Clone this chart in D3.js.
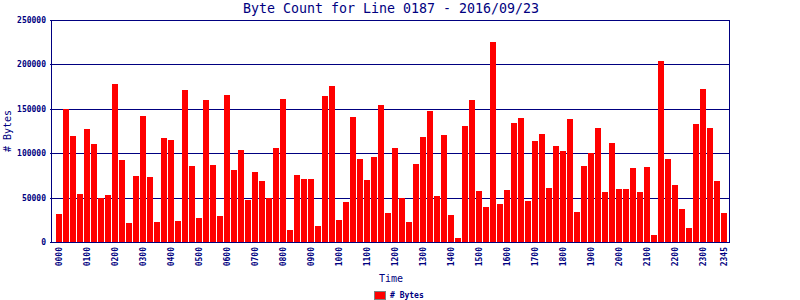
<!DOCTYPE html>
<html lang="en">
<head>
<meta charset="UTF-8">
<title>Byte Count</title>
<script src="https://d3js.org/d3.v7.min.js"></script>
<style>
    body { margin: 0; background: #fff; }
    text { font-family: "DejaVu Sans Mono", monospace; fill: #000080; }
    .tick-label { font-size: 8px; font-weight: bold; }
    .grid { stroke: #000080; stroke-width: 1; shape-rendering: crispEdges; }
    .bar { fill: #ff0000; shape-rendering: crispEdges; }
</style>
</head>
<body>
<script>
    // one bar per 15-minute slot
    var bytes = [31000, 150000, 119500, 54000, 127500, 110500, 49000, 53000,
        178000, 92500, 21500, 74500, 142000, 73000, 22500, 117000,
        115000, 24000, 171000, 85500, 27000, 160000, 86500, 29500,
        165500, 81000, 103500, 47500, 79000, 68500, 49500, 106000,
        161000, 13500, 75500, 71000, 71000, 18000, 164500, 175500,
        25000, 45000, 141000, 93500, 70000, 95500, 154500, 32500,
        106000, 49500, 22500, 88000, 118000, 147500, 52000, 120500,
        30500, 4500, 130500, 160000, 57500, 39500, 225000, 43000,
        58500, 134000, 139500, 46000, 113500, 121500, 61000, 108000,
        102500, 138500, 34000, 85500, 100000, 128500, 56500, 111500,
        59500, 59500, 83500, 56500, 84500, 8000, 204000, 93500,
        64000, 37000, 16000, 133000, 172000, 128500, 68500, 33000];

    var slots = d3.range(96).map(function(i) {
        return d3.format("02")(Math.floor(i / 4)) + d3.format("02")((i % 4) * 15);
    });

    var xTickLabels = ["0000", "0100", "0200", "0300", "0400", "0500", "0600", "0700",
        "0800", "0900", "1000", "1100", "1200", "1300", "1400", "1500",
        "1600", "1700", "1800", "1900", "2000", "2100", "2200", "2300", "2345"];

    var yTicks = [0, 50000, 100000, 150000, 200000, 250000];

    var plotLeft = 52, plotRight = 730, plotTop = 20, plotBottom = 242;

    var svg = d3.select("body").append("svg")
        .attr("width", 800).attr("height", 300);

    var x = d3.scaleBand().domain(slots)
        .range([56, 727]).paddingInner(1 / 7).paddingOuter(0);
    var y = d3.scaleLinear().domain([0, 250000]).range([plotBottom, plotTop]);

    // grid lines
    svg.append("g").selectAll("line").data(yTicks).enter().append("line")
        .attr("class", "grid")
        .attr("x1", plotLeft - 2).attr("x2", plotRight)
        .attr("y1", function(d) { return Math.round(y(d)) + 0.5; })
        .attr("y2", function(d) { return Math.round(y(d)) + 0.5; });

    // bars
    svg.append("g").selectAll("rect").data(bytes).enter().append("rect")
        .attr("class", "bar")
        .attr("x", function(d, i) { return x(slots[i]); })
        .attr("width", x.bandwidth())
        .attr("y", function(d) { return Math.round(y(d)); })
        .attr("height", function(d) { return plotBottom - Math.round(y(d)); });

    // frame
    svg.append("rect")
        .attr("x", plotLeft - 0.5).attr("y", plotTop + 0.5)
        .attr("width", plotRight - plotLeft).attr("height", plotBottom - plotTop)
        .style("fill", "none").style("stroke", "#000080")
        .style("shape-rendering", "crispEdges");

    // y tick labels
    svg.append("g").selectAll("text").data(yTicks).enter().append("text")
        .attr("class", "tick-label")
        .attr("x", 46)
        .attr("y", function(d) { return Math.round(y(d)); })
        .attr("dy", "0.35em")
        .attr("text-anchor", "end")
        .text(function(d) { return d; });

    // x tick labels, rotated
    svg.append("g").selectAll("text").data(xTickLabels).enter().append("text")
        .attr("class", "tick-label")
        .attr("transform", function(d) {
            return "translate(" + (x(d) + x.bandwidth() / 2) + ",247) rotate(-90)";
        })
        .attr("dy", "0.35em")
        .attr("text-anchor", "end")
        .text(function(d) { return d; });

    svg.append("text")
        .attr("x", (plotLeft + plotRight) / 2).attr("y", 13)
        .attr("text-anchor", "middle")
        .style("font-size", "13.3px")
        .text("Byte Count for Line 0187 - 2016/09/23");

    svg.append("text")
        .attr("transform", "translate(11," + (plotTop + plotBottom) / 2 + ") rotate(-90)")
        .attr("text-anchor", "middle")
        .style("font-size", "10px")
        .text("# Bytes");

    svg.append("text")
        .attr("x", (plotLeft + plotRight) / 2).attr("y", 282)
        .attr("text-anchor", "middle")
        .style("font-size", "10px")
        .text("Time");

    // legend
    svg.append("rect")
        .attr("x", 374.5).attr("y", 291.5).attr("width", 11).attr("height", 8)
        .style("fill", "#ff0000").style("stroke", "#808080");
    svg.append("text")
        .attr("class", "tick-label")
        .attr("x", 390).attr("y", 298)
        .text("# Bytes");
</script>
</body>
</html>
